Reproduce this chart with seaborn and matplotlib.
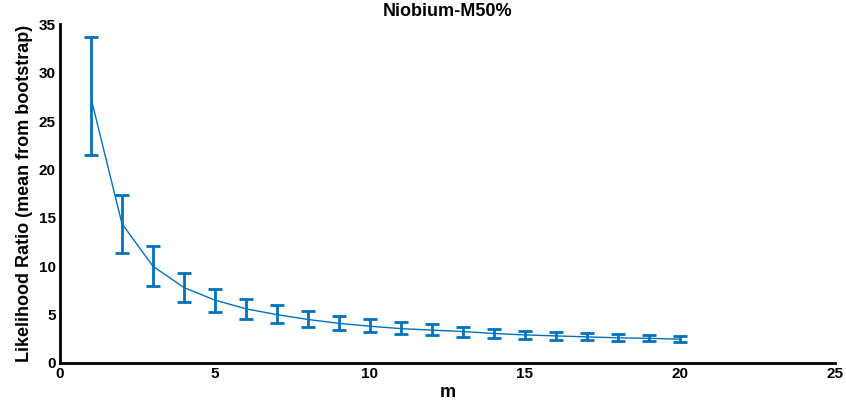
import matplotlib
matplotlib.use("Agg")
import matplotlib.pyplot as plt
import seaborn as sns
import numpy as np
import pandas as pd

m_values = list(range(1, 21))
mean_lr = [27.4, 14.4, 10.0, 7.8, 6.5, 5.6, 5.0, 4.5, 4.1, 3.8,
           3.55, 3.4, 3.25, 3.05, 2.9, 2.8, 2.7, 2.6, 2.55, 2.46]
upper_lr = [33.7, 17.4, 12.1, 9.3, 7.7, 6.65, 5.95, 5.33, 4.81, 4.5,
            4.19, 3.98, 3.74, 3.56, 3.35, 3.2, 3.1, 3.0, 2.92, 2.84]
lower_lr = [21.5, 11.4, 8.0, 6.26, 5.23, 4.57, 4.15, 3.74, 3.46, 3.25,
            3.01, 2.9, 2.73, 2.6, 2.5, 2.42, 2.35, 2.3, 2.25, 2.21]
x_ticks = [0, 5, 10, 15, 20, 25]
y_ticks = [0, 5, 10, 15, 20, 25, 30, 35]

sns.set_theme(style="white")
plt.rcParams['font.family'] = ['Liberation Sans', 'DejaVu Sans']
plt.rcParams['text.color'] = 'black'
plt.rcParams['axes.labelcolor'] = 'black'

df = pd.DataFrame({"m": m_values, "mean": mean_lr, "upper": upper_lr, "lower": lower_lr})

fig = plt.figure(figsize=(8.46, 4.03), dpi=100)
ax = fig.add_axes([0.0709, 0.0993, 0.916, 0.840])

color = "#0072BD"
sns.lineplot(data=df, x="m", y="mean", ax=ax, color=color, linewidth=1.0)
yerr = [np.array(mean_lr) - np.array(lower_lr), np.array(upper_lr) - np.array(mean_lr)]
ax.errorbar(df["m"], df["mean"], yerr=yerr, fmt="none", ecolor=color,
            elinewidth=2.0, capsize=5, capthick=2.0)

ax.set_xlim(0, 25)
ax.set_ylim(0, 35)
ax.set_xticks(x_ticks)
ax.set_yticks(y_ticks)
ax.tick_params(direction="in", length=6, width=2, labelsize=11, colors="black", pad=3)
for lab in ax.get_xticklabels() + ax.get_yticklabels():
    lab.set_fontweight("bold")
for s in ["top", "right"]:
    ax.spines[s].set_visible(False)
for s in ["left", "bottom"]:
    ax.spines[s].set_linewidth(2)
    ax.spines[s].set_color("black")

ax.set_xlabel("m", fontsize=13, fontweight="bold", labelpad=2, color="black")
ax.set_ylabel("Likelihood Ratio (mean from bootstrap)", fontsize=13, fontweight="bold",
              labelpad=4, color="black")
ax.set_title("Niobium-M50%", fontsize=13, fontweight="bold", pad=6, color="black")

fig.savefig("out.png", dpi=100)
